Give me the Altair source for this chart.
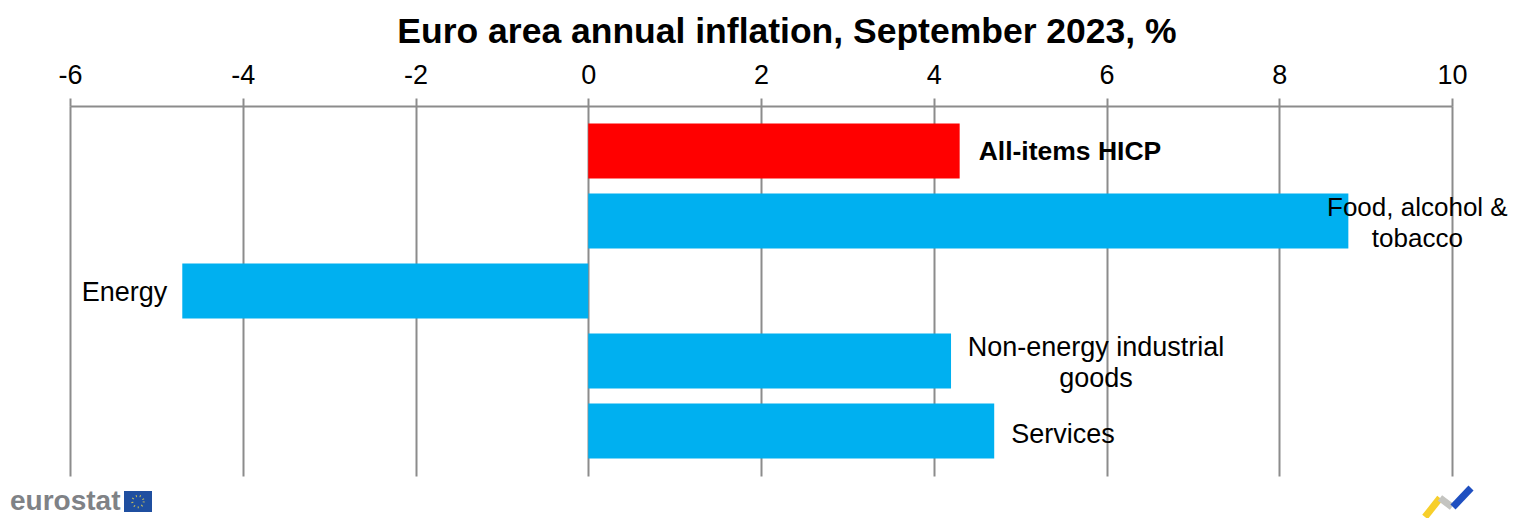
import altair as alt
import pandas as pd

categories = ["All-items HICP", "Food, alcohol & tobacco", "Energy", "Non-energy industrial goods", "Services"]
values = [4.3, 8.8, -4.7, 4.2, 4.7]
label_lines = ["All-items HICP", "Food, alcohol &\ntobacco", "Energy", "Non-energy industrial\ngoods", "Services"]
bar_colors = ["#ff0000", "#00b0f0", "#00b0f0", "#00b0f0", "#00b0f0"]
tick_values = [-6, -4, -2, 0, 2, 4, 6, 8, 10]

df = pd.DataFrame({"category": categories, "value": values, "label": label_lines, "color": bar_colors})

FONT = "Liberation Sans"
GREY = "#8c8c8c"

x_scale = alt.Scale(domain=[-6, 10], nice=False, zero=False)
y_scale = alt.Scale(domain=categories, paddingInner=0.214, paddingOuter=0.25)
x_enc = alt.X("value:Q", scale=x_scale,
              axis=alt.Axis(orient="top", values=tick_values, title=None,
                            labelExpr="toString(datum.value)", labelFlush=False,
                            grid=True, gridColor=GREY, gridWidth=2,
                            domainColor=GREY, domainWidth=2, tickColor=GREY, tickWidth=2,
                            tickSize=8, labelFont=FONT, labelFontSize=27, labelColor="#000000",
                            labelPadding=9))
y_enc = alt.Y("category:N", scale=y_scale, axis=None)

bars = alt.Chart(df).mark_bar().encode(
    x=x_enc, y=y_enc, color=alt.Color("color:N", scale=None))


def label(cat, dx, dy, align, bold=False, size=27):
    return alt.Chart(df[df.category == cat]).mark_text(
        font=FONT, fontSize=size, color="#000000", align=align, baseline="middle", dx=dx, dy=dy,
        lineBreak="\n", lineHeight=31, fontWeight="bold" if bold else "normal",
    ).encode(x=alt.X("value:Q", scale=x_scale), y=y_enc, text="label:N")


labels = [
    label(categories[0], 19, 1, "left", True, size=26.5),
    label(categories[1], 69, -13, "center", size=26),
    label(categories[2], -15, 2, "right"),
    label(categories[3], 145, -13, "center"),
    label(categories[4], 17, 4, "left"),
]

# logos, outside the plot area
anchor = alt.Chart(pd.DataFrame({"a": [0]}))
eurostat = anchor.mark_text(font=FONT, fontSize=28, fontWeight="bold", color="#7f8286", align="left",
                            baseline="alphabetic", text="eurostat").encode(
    x=alt.value(-60), y=alt.value(404))
flag = anchor.mark_rect(color="#1f4fa0").encode(
    x=alt.value(54), x2=alt.value(82), y=alt.value(385), y2=alt.value(406))
ring = anchor.mark_point(shape="circle", size=130, stroke="#c9c05a", strokeWidth=2, strokeDash=[1, 3],
                         fill=None, opacity=1).encode(x=alt.value(68), y=alt.value(395.5))


def seg(x1, y1, x2, y2, color):
    return anchor.mark_rule(color=color, strokeWidth=7).encode(
        x=alt.value(x1 - 70), x2=alt.value(x2 - 70), y=alt.value(y1 - 106), y2=alt.value(y2 - 106))


mark_logo = [
    seg(1425, 517, 1440, 498, "#f7cf2b"),
    seg(1440, 498, 1452, 507, "#c4c4c0"),
    seg(1453, 507, 1471, 488, "#1f4fc0"),
]

chart = alt.layer(bars, *labels, eurostat, flag, ring, *mark_logo).properties(
    width=1382, height=370,
    title=alt.TitleParams("Euro area annual inflation, September 2023, %", font=FONT, fontSize=35.5,
                          fontWeight="bold", color="#000000", anchor="middle", dx=26, offset=11),
    padding={"left": 62, "top": 98, "right": 56, "bottom": 42},
    autosize=alt.AutoSizeParams(type="none"),
    background="#ffffff",
).configure_view(stroke=None)

chart.save("out.html", embed_options={"renderer": "svg", "actions": False})
